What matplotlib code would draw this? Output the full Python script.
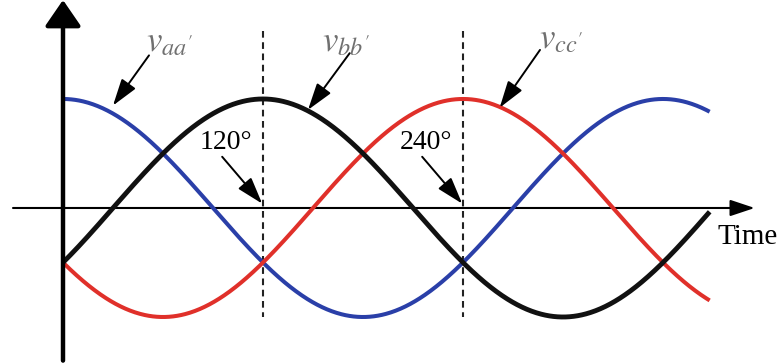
import numpy as np
import matplotlib
matplotlib.use("Agg")
import matplotlib.pyplot as plt

# ---- data ----
phase_labels = [r"$v_{aa'}$", r"$v_{bb'}$", r"$v_{cc'}$"]
phase_shifts_deg = [0, 120, 240]
phase_colors = ["#2a3fa8", "#111111", "#e0302a"]
amplitude = 1.0
theta_end_deg = 388
marker_angles = [120, 240]
marker_labels = ["120°", "240°"]
axis_label = "Time"

plt.rcParams["mathtext.fontset"] = "stix"

fig = plt.figure(figsize=(7.82, 3.63), dpi=100)
ax = fig.add_axes([0, 0, 1, 1])
ax.set_xlim(-37.8, 431.4)
ax.set_ylim(-1.422, 1.908)
ax.axis("off")

theta = np.linspace(0, theta_end_deg, 800)
widths = [2.9, 3.5, 2.9]
order = [0, 2, 1]
for i in order:
    y = amplitude * np.cos(np.radians(theta - phase_shifts_deg[i]))
    ax.plot(theta, y, color=phase_colors[i], lw=widths[i], solid_capstyle="butt", zorder=3 + (i == 1))

# axes arrows
ax.annotate("", xy=(415, 0), xytext=(-30, 0),
            arrowprops=dict(arrowstyle="-|>,head_length=0.75,head_width=0.25", lw=1.5,
                            color="black", shrinkA=0, shrinkB=0, mutation_scale=20), zorder=2)
ax.annotate("", xy=(0, 1.908), xytext=(0, -1.40),
            arrowprops=dict(arrowstyle="-|>,head_length=0.8,head_width=0.55", lw=3.2,
                            color="black", shrinkA=0, shrinkB=0, mutation_scale=20), zorder=6)
ax.text(393, -0.265, axis_label, fontsize=21, family="Liberation Serif", ha="left", va="center")

# dashed marker lines
for ang, lab in zip(marker_angles, marker_labels):
    ax.plot([ang, ang], [1.62, -1.0], color="#222222", lw=1.5, ls=(0, (3.2, 2.2)), zorder=2)
    ax.text(ang - 22, 0.60, lab, fontsize=20, family="Liberation Serif", ha="center", va="center")
    ax.annotate("", xy=(ang - 0.5, 0.04), xytext=(ang - 24.5, 0.47),
                arrowprops=dict(arrowstyle="-|>,head_length=1.1,head_width=0.35", lw=1.4,
                                color="black", shrinkA=0, shrinkB=0, mutation_scale=15), zorder=5)

# curve labels with arrows
label_pos = [(64, 1.52), (170, 1.52), (299, 1.55)]
arrow_from = [(51.6, 1.40), (172, 1.42), (286.2, 1.45)]
arrow_to = [(30, 0.94), (147, 0.90), (262, 0.92)]
for lab, lp, af, at in zip(phase_labels, label_pos, arrow_from, arrow_to):
    ax.text(lp[0], lp[1], lab, fontsize=25, color="#707070", ha="center", va="center")
    ax.annotate("", xy=at, xytext=af,
                arrowprops=dict(arrowstyle="-|>,head_length=1.1,head_width=0.35", lw=1.4,
                                color="black", shrinkA=0, shrinkB=0, mutation_scale=15), zorder=5)

fig.savefig("out.png", dpi=100)
